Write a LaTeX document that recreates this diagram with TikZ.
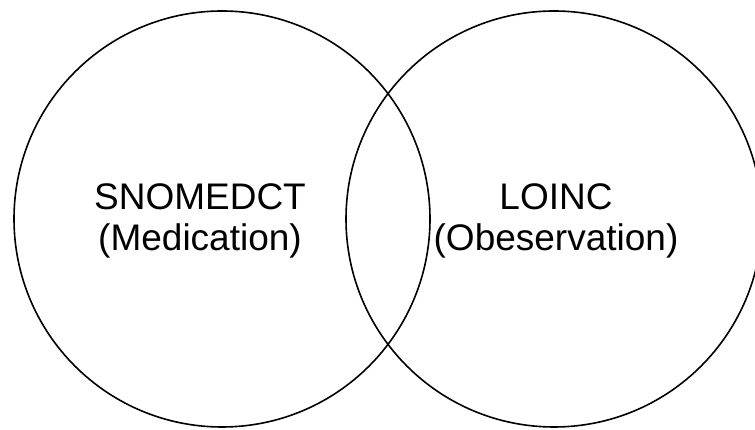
\documentclass[tikz,border=0pt]{standalone}
\usepackage{fontspec}
\setmainfont{Liberation Sans}
\usetikzlibrary{positioning}

\begin{document}
\begin{tikzpicture}[x=1pt,y=1pt,
		set node/.style={circle,draw,line width=1.6pt,minimum size=416pt,inner sep=0pt},
		name node/.style={align=center,font=\fontsize{37}{41}\selectfont}]
		
		\useasboundingbox (0,0) rectangle (755,430);
		
		\node[set node] (snomed) at (222,211) {};
		\node[set node] (loinc) at (554,211) {};
		
		\node[name node] (snomedtxt) at (200,209) {SNOMEDCT\\(Medication)};
		\node[name node] (loinctxt) at (556,209) {LOINC\\(Obeservation)};
		\end{tikzpicture}
\end{document}
